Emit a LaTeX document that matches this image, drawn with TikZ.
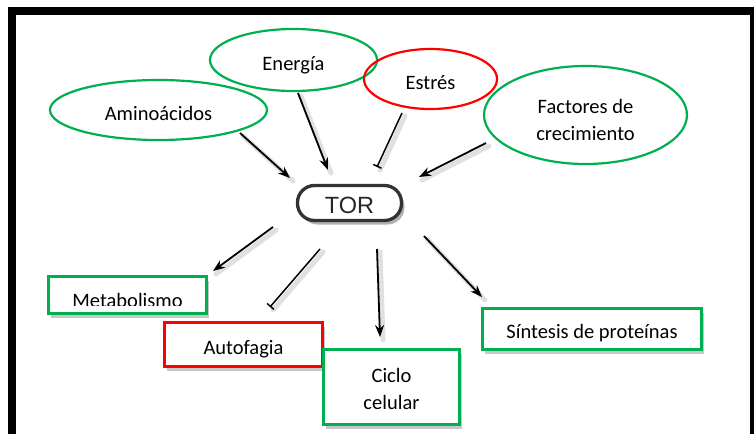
\documentclass[tikz,border=0pt]{standalone}
\usepackage{fontspec}
\setmainfont{Carlito}
\newfontfamily\torfont{Liberation Sans}
\usetikzlibrary{arrows.meta,shadows,shapes.geometric}
\definecolor{cgreen}{HTML}{00B050}
\definecolor{cred}{HTML}{FF0000}
\definecolor{torgray}{HTML}{333333}
\begin{document}
\begin{tikzpicture}[x=1pt,y=-1pt,
  txt/.style={font=\fontsize{20.5}{27}\selectfont, align=center},
  one/.style={text height=20pt, text depth=0pt},
  oval/.style={txt, ellipse, draw, line width=2.2pt, inner sep=0pt},
  boxnode/.style={txt, rectangle, draw, line width=2.5pt, fill=white, inner sep=0pt,
    drop shadow={shadow xshift=2pt, shadow yshift=-4pt, opacity=0.22, fill=black}},
  arr/.style={-{Stealth[length=12pt,width=9pt]}, line width=1.8pt},
  inh/.style={-{Bar[width=9pt,line width=1.5pt]}, line width=1.5pt},
  shade/.style={draw=black, opacity=0.12, line width=5pt, line cap=round,
    transform canvas={shift={(3pt,-3pt)}}},
]
\useasboundingbox (0,0) rectangle (754,434);
\fill[white] (0,0) rectangle (754,434);
% frame
\fill[black] (8,7) rectangle (16,434);
\fill[black] (8,7) rectangle (754,15);
\fill[black] (750,7) rectangle (754,434);

% coordinates of connector ends
\coordinate (a1) at (240,133); \coordinate (a2) at (290,178);
\coordinate (e1) at (298,93);  \coordinate (e2) at (328,170);
\coordinate (s1) at (402,113); \coordinate (s2) at (377,167);
\coordinate (f1) at (486,143); \coordinate (f2) at (419,177);
\coordinate (m1) at (273,227); \coordinate (m2) at (213,271);
\coordinate (u1) at (320,249); \coordinate (u2) at (270,307);
\coordinate (c1) at (377,249); \coordinate (c2) at (380,337);
\coordinate (p1) at (424,236); \coordinate (p2) at (482,297);

% shadows of connectors
\foreach \i/\j in {a1/a2,e1/e2,s1/s2,f1/f2,m1/m2,u1/u2,c1/c2,p1/p2}
  \draw[shade] (\i) -- (\j);

% input ovals
\node[oval, one, draw=cgreen, minimum width=217pt, minimum height=60pt] (amino) at (158.5,110) {Aminoácidos};
\node[oval, one, draw=cgreen, minimum width=167pt, minimum height=62pt] (energia) at (293.5,60) {Energía};
\node[oval, one, draw=cred, minimum width=133pt, minimum height=60pt] (estres) at (430.5,79) {Estrés};
\node[oval, draw=cgreen, minimum width=203pt, minimum height=98pt] (factores) at (585.5,115) {};
\node[txt, inner sep=0pt] (factorestext) at (585.5,120) {Factores de\\crecimiento};

% TOR
\node[draw=torgray, fill=white, line width=3.3pt, rounded corners=17pt, minimum width=104pt, minimum height=35pt,
  inner sep=0pt, text=black!85, font=\torfont\fontsize{23.5}{26}\selectfont, text height=20pt, text depth=0pt,
  drop shadow={shadow xshift=3pt, shadow yshift=-4pt, opacity=0.3, fill=black}] (tor) at (349.5,203) {TOR};

% output boxes
\node[boxnode, draw=cgreen, minimum width=158pt, minimum height=37pt] (meta) at (127.5,295) {};
\begin{scope}
  \clip (47,275) rectangle (208,305.5);
  \node[txt, anchor=base, inner sep=0pt] (metatext) at (127.5,307) {Metabolismo};
\end{scope}
\node[boxnode, draw=cred, minimum width=158pt, minimum height=44pt, text height=19pt, text depth=0pt] (auto) at (243.5,344.5) {Autofagia};
\node[boxnode, draw=cgreen, minimum width=136pt, minimum height=75pt] (ciclo) at (391.5,387) {};
\node[txt, inner sep=0pt] (ciclotext) at (391.5,389) {Ciclo\\celular};
\node[boxnode, draw=cgreen, minimum width=219pt, minimum height=41pt, text height=19pt, text depth=0pt] (sintesis) at (592,329) {Síntesis de proteínas};

% connectors
\draw[arr] (a1) -- (a2);
\draw[arr] (e1) -- (e2);
\draw[inh] (s1) -- (s2);
\draw[arr] (f1) -- (f2);
\draw[arr] (m1) -- (m2);
\draw[inh] (u1) -- (u2);
\draw[arr] (c1) -- (c2);
\draw[arr] (p1) -- (p2);
\end{tikzpicture}
\end{document}
